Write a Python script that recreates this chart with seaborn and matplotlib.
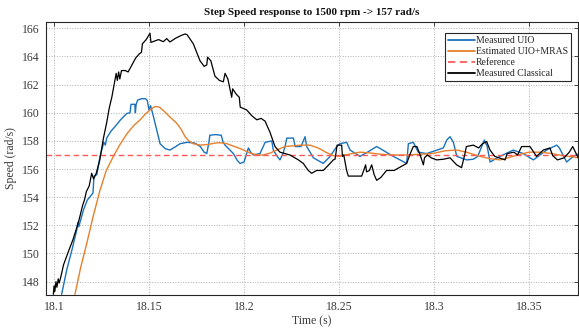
import numpy as np
import pandas as pd
import matplotlib
matplotlib.use("Agg")
import matplotlib.pyplot as plt
import seaborn as sns

# ---- measured / estimated speed traces (time in s, speed in rad/s) ----
t_uio = [18.1040, 18.1067, 18.1095, 18.1120, 18.1125, 18.1130, 18.1155, 18.1175, 18.1190, 18.1205,
         18.1210, 18.1225, 18.1242, 18.1262, 18.1270, 18.1277, 18.1300, 18.1320, 18.1350, 18.1383,
         18.1400, 18.1405, 18.1425, 18.1428, 18.1432, 18.1440, 18.1460, 18.1480, 18.1490, 18.1500,
         18.1508, 18.1520, 18.1540, 18.1558, 18.1585, 18.1610, 18.1635, 18.1663, 18.1700, 18.1740,
         18.1770, 18.1790, 18.1804, 18.1815, 18.1820, 18.1850, 18.1880, 18.1890, 18.1900, 18.1944,
         18.1965, 18.1979, 18.2000, 18.2023, 18.2035, 18.2049, 18.2084, 18.2111, 18.2146, 18.2154,
         18.2175, 18.2189, 18.2205, 18.2216, 18.2225, 18.2260, 18.2269, 18.2300, 18.2321, 18.2330,
         18.2365, 18.2417, 18.2453, 18.2488, 18.2505, 18.2540, 18.2558, 18.2610, 18.2650, 18.2698,
         18.2730, 18.2786, 18.2856, 18.2865, 18.2891, 18.2917, 18.2961, 18.3049, 18.3067, 18.3084,
         18.3102, 18.3120, 18.3172, 18.3207, 18.3230, 18.3251, 18.3265, 18.3280, 18.3295, 18.3347,
         18.3417, 18.3470, 18.3523, 18.3593, 18.3646, 18.3660, 18.3698, 18.3733, 18.3763]
v_uio = [147.1, 148.85, 150.3, 151.7, 152.2, 151.9, 153.1, 153.8, 154.05, 154.3,
         155.5, 155.6, 156.9, 157.9, 157.7, 158.2, 158.7, 159.0, 159.5, 159.95,
         160.0, 160.6, 160.6, 160.0, 160.6, 160.9, 161.0, 161.0, 160.9, 160.2,
         160.5, 159.9, 158.8, 157.8, 157.45, 157.35, 157.55, 157.8, 157.9, 157.85,
         157.6, 157.2, 157.1, 157.9, 158.4, 158.45, 158.4, 157.9, 157.7, 157.1,
         156.6, 156.4, 156.5, 157.5, 157.2, 157.0, 157.1, 157.9, 158.0, 157.35,
         156.9, 156.65, 157.1, 157.6, 158.2, 158.2, 157.6, 157.6, 158.3, 157.6,
         156.8, 156.4, 156.9, 157.6, 157.8, 157.9, 157.35, 156.9, 157.2, 157.6,
         157.35, 156.9, 156.4, 157.8, 157.9, 157.2, 157.1, 157.5, 158.06, 158.3,
         157.9, 156.9, 156.65, 156.7, 156.9, 157.6, 158.06, 157.6, 156.5, 156.9,
         157.35, 157.1, 156.65, 157.35, 157.7, 157.5, 156.5, 156.9, 157.1]

t_mras = [18.1110, 18.1140, 18.1172, 18.1205, 18.1242, 18.1275, 18.1312, 18.1345, 18.1383, 18.1420,
          18.1453, 18.1480, 18.1505, 18.1532, 18.1555, 18.1580, 18.1610, 18.1646, 18.1670, 18.1690,
          18.1710, 18.1733, 18.1770, 18.1810, 18.1850, 18.1874, 18.1910, 18.1950, 18.1990, 18.2030,
          18.2070, 18.2102, 18.2140, 18.2180, 18.2216, 18.2260, 18.2300, 18.2347, 18.2390, 18.2430,
          18.2470, 18.2505, 18.2530, 18.2570, 18.2610, 18.2660, 18.2720, 18.2790, 18.2860, 18.2920,
          18.2990, 18.3060, 18.3120, 18.3170, 18.3230, 18.3290, 18.3347, 18.3390, 18.3440, 18.3500,
          18.3560, 18.3620, 18.3680, 18.3740, 18.3763]
v_mras = [147.1, 149.0, 150.7, 152.6, 154.5, 155.9, 156.9, 157.7, 158.5, 159.1,
          159.5, 159.9, 160.2, 160.45, 160.4, 160.1, 159.7, 159.25, 158.8, 158.3,
          158.0, 157.8, 157.7, 157.75, 157.85, 157.87, 157.8, 157.6, 157.4, 157.15,
          157.0, 157.0, 157.15, 157.4, 157.6, 157.65, 157.7, 157.7, 157.5, 157.2,
          156.95, 156.9, 157.0, 157.1, 157.2, 157.15, 157.05, 157.0, 157.0, 157.05,
          157.1, 157.3, 157.35, 157.2, 156.95, 156.75, 156.65, 156.8, 157.0, 157.2,
          157.2, 157.1, 156.95, 156.85, 156.8]

t_cls = [18.0996, 18.1000, 18.1004, 18.1010, 18.1015, 18.1022, 18.1027, 18.1035, 18.1050, 18.1080,
         18.1100, 18.1130, 18.1150, 18.1160, 18.1170, 18.1185, 18.1198, 18.1208, 18.1222, 18.1240,
         18.1260, 18.1277, 18.1290, 18.1304, 18.1320, 18.1327, 18.1333, 18.1340, 18.1346, 18.1355,
         18.1375, 18.1390, 18.1410, 18.1430, 18.1450, 18.1460, 18.1465, 18.1485, 18.1505, 18.1510,
         18.1530, 18.1550, 18.1575, 18.1593, 18.1610, 18.1640, 18.1670, 18.1690, 18.1700, 18.1733,
         18.1768, 18.1790, 18.1804, 18.1808, 18.1825, 18.1847, 18.1870, 18.1891, 18.1900, 18.1915,
         18.1935, 18.1940, 18.1960, 18.1975, 18.1980, 18.2014, 18.2040, 18.2067, 18.2090, 18.2111,
         18.2137, 18.2163, 18.2189, 18.2242, 18.2286, 18.2312, 18.2338, 18.2356, 18.2382, 18.2417,
         18.2453, 18.2470, 18.2479, 18.2490, 18.2514, 18.2518, 18.2525, 18.2540, 18.2549, 18.2580,
         18.2610, 18.2619, 18.2630, 18.2640, 18.2645, 18.2660, 18.2672, 18.2685, 18.2698, 18.2720,
         18.2750, 18.2790, 18.2830, 18.2856, 18.2875, 18.2891, 18.2910, 18.2927, 18.2944, 18.2950,
         18.2965, 18.2985, 18.3014, 18.3050, 18.3084, 18.3119, 18.3145, 18.3163, 18.3170, 18.3207,
         18.3235, 18.3255, 18.3277, 18.3295, 18.3320, 18.3374, 18.3385, 18.3420, 18.3440, 18.3461,
         18.3505, 18.3540, 18.3575, 18.3610, 18.3625, 18.3650, 18.3685, 18.3712, 18.3730, 18.3748,
         18.3765]
v_cls = [147.1, 147.7, 147.3, 148.0, 147.6, 148.2, 147.9, 148.3, 149.2, 150.3,
         151.0, 152.3, 153.4, 153.8, 154.4, 154.8, 155.7, 155.3, 155.7, 156.6,
         158.2, 159.3, 160.3, 161.1, 162.3, 162.8, 162.3, 162.9, 162.4, 163.0,
         163.0, 162.9, 163.4, 163.9, 164.2, 164.3, 164.9, 165.2, 165.65, 165.0,
         165.1, 165.2, 165.05, 165.27, 165.03, 165.3, 165.5, 165.6, 165.55, 164.9,
         163.7, 163.3, 163.4, 163.95, 163.7, 162.6, 162.3, 162.2, 162.8, 162.4,
         161.1, 161.7, 161.3, 161.1, 160.4, 160.2, 159.8, 159.5, 159.6, 159.4,
         158.6, 157.6, 157.2, 157.0, 156.65, 156.4, 155.9, 155.7, 155.9, 155.9,
         156.4, 156.65, 156.7, 157.7, 157.7, 156.9, 157.0, 155.9, 155.5, 155.5,
         155.5, 155.5, 155.9, 156.3, 155.8, 155.9, 156.3, 155.6, 155.2, 155.4,
         155.9, 155.9, 156.2, 156.4, 157.1, 157.6, 157.6, 157.0, 156.3, 156.8,
         157.0, 156.8, 156.65, 156.7, 156.8, 156.3, 156.1, 157.1, 157.6, 157.7,
         157.5, 157.8, 157.95, 157.35, 156.9, 156.65, 157.1, 157.2, 157.0, 157.6,
         157.6, 156.9, 157.35, 157.5, 156.95, 156.65, 156.8, 157.2, 157.6, 157.1,
         156.65]

ref_speed = 157.0
t_range = [18.0955, 18.3758]

x_ticks = [18.1, 18.15, 18.2, 18.25, 18.3, 18.35]
x_tick_labels = ["18.1", "18.15", "18.2", "18.25", "18.3", "18.35"]
y_ticks = [148, 150, 152, 154, 156, 158, 160, 162, 164, 166]

labels = ["Measured UIO", "Estimated UIO+MRAS", "Reference", "Measured Classical"]
colors = ["#1A72BE", "#E5802C", "#FF5A5A", "#000000"]

# ---- styling ----
sns.set_theme(style="white")
plt.rcParams["font.family"] = ["Liberation Serif", "DejaVu Serif"]
plt.rcParams["axes.edgecolor"] = "#262626"
plt.rcParams["xtick.color"] = "#262626"
plt.rcParams["ytick.color"] = "#262626"

fig = plt.figure(figsize=(5.79, 3.28), dpi=100)
ax = fig.add_axes([0.0786, 0.1006, 0.9197, 0.8332])

df_uio = pd.DataFrame({"t": t_uio, "v": v_uio})
df_mras = pd.DataFrame({"t": t_mras, "v": v_mras})
df_ref = pd.DataFrame({"t": t_range, "v": [ref_speed, ref_speed]})
df_cls = pd.DataFrame({"t": t_cls, "v": v_cls})

lw = 1.0
sns.lineplot(data=df_uio, x="t", y="v", ax=ax, color=colors[0], lw=lw,
             sort=False, estimator=None, label=labels[0])
sns.lineplot(data=df_mras, x="t", y="v", ax=ax, color=colors[1], lw=lw,
             sort=False, estimator=None, label=labels[1])
sns.lineplot(data=df_ref, x="t", y="v", ax=ax, color=colors[2], lw=lw,
             sort=False, estimator=None, label=labels[2], linestyle=(0, (4, 2.5)))
sns.lineplot(data=df_cls, x="t", y="v", ax=ax, color=colors[3], lw=0.9,
             sort=False, estimator=None, label=labels[3])

ax.set_xlim(t_range)
ax.set_ylim(147.05, 166.47)
ax.set_xticks(x_ticks)
ax.set_xticklabels(x_tick_labels)
ax.set_yticks(y_ticks)

ax.grid(True, color="#b0b0b0", linestyle=":", linewidth=0.7)
ax.set_axisbelow(True)
for s in ax.spines.values():
    s.set_linewidth(0.8)
    s.set_color("#262626")
ax.tick_params(direction="in", length=3, width=0.6, top=True, right=True,
               labelsize=8.5, pad=4, colors="#262626")
for lab in ax.get_xticklabels() + ax.get_yticklabels():
    lab.set_color("#3a3a3a")

ax.set_xlabel("Time (s)", fontsize=8.5, color="#3a3a3a", labelpad=2)
ax.set_ylabel("Speed (rad/s)", fontsize=8.5, color="#3a3a3a", labelpad=4)
ax.set_title("Step Speed response to 1500 rpm -> 157 rad/s", fontsize=8,
             fontweight="bold", color="#111111", pad=5)

leg = ax.legend(loc="upper right", bbox_to_anchor=(0.987, 0.958), borderaxespad=0,
                fontsize=7, frameon=True, fancybox=False, framealpha=1,
                handlelength=2.7, handletextpad=0.15, labelspacing=0.2,
                borderpad=0.3)
leg.get_frame().set_edgecolor("#262626")
leg.get_frame().set_linewidth(0.8)
for h in leg.get_lines():
    h.set_linewidth(1.3)

fig.savefig("out.png", dpi=100)
